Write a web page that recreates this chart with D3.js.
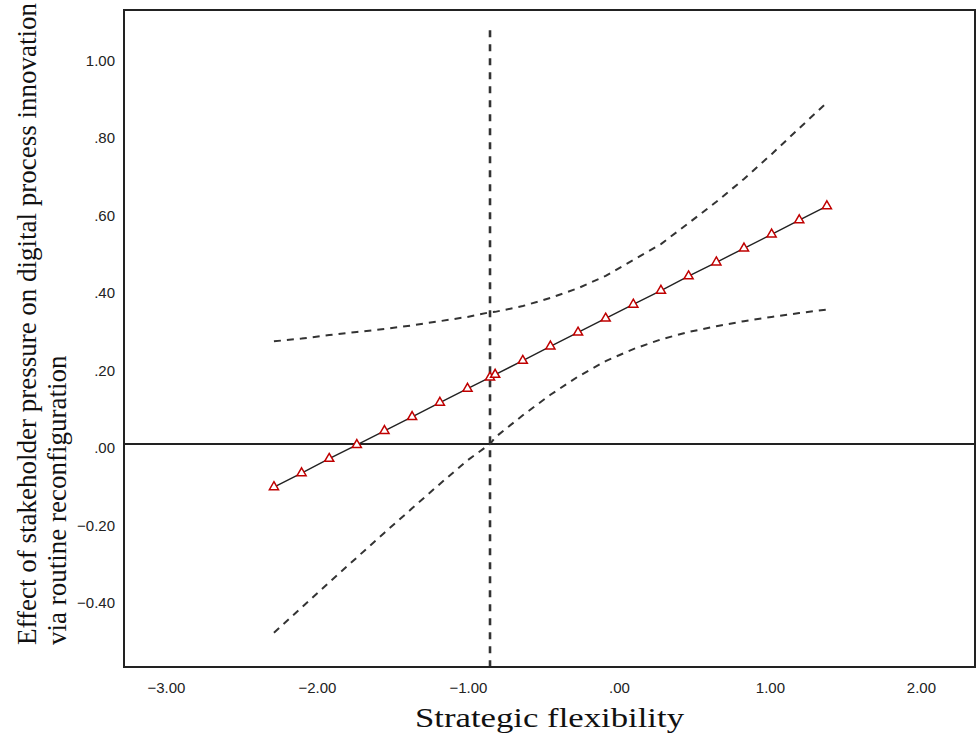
<!DOCTYPE html>
<html>
<head>
<meta charset="utf-8">
<script src="https://cdn.jsdelivr.net/npm/d3@7"></script>
<style>
	body { margin: 0; background: #fff; }
	.tick text { font-family: 'Liberation Sans', Arial, sans-serif; font-size: 15px; fill: #222; }
	.title { font-family: 'Liberation Serif', 'Times New Roman', serif; font-size: 27px; fill: #111; }
</style>
</head>
<body>
<div id="chart"></div>
<script>
// moderator values (strategic flexibility), incl. the Johnson-Neyman point
var modValues = [-2.285, -2.102, -1.919, -1.736, -1.553, -1.370, -1.186, -1.003, -0.854, -0.820,
	-0.637, -0.454, -0.271, -0.088, 0.095, 0.278, 0.461, 0.645, 0.828, 1.011, 1.194, 1.377];
var effects = [-0.111, -0.075, -0.038, -0.002, 0.034, 0.070, 0.107, 0.143, 0.172, 0.179,
	0.215, 0.252, 0.288, 0.324, 0.360, 0.396, 0.433, 0.469, 0.505, 0.541, 0.578, 0.614];
var upperCI = [0.265, 0.272, 0.281, 0.289, 0.297, 0.306, 0.317, 0.328, 0.340, 0.341,
	0.356, 0.377, 0.402, 0.434, 0.475, 0.516, 0.570, 0.625, 0.684, 0.748, 0.815, 0.881];
var lowerCI = [-0.487, -0.422, -0.357, -0.293, -0.229, -0.166, -0.103, -0.042, 0.000, 0.017,
	0.074, 0.127, 0.174, 0.214, 0.245, 0.270, 0.289, 0.304, 0.317, 0.328, 0.338, 0.347];
var jnPoint = -0.854;
var xTicks = [-3, -2, -1, 0, 1, 2];
var yTicks = [-0.4, -0.2, 0, 0.2, 0.4, 0.6, 0.8, 1.0];
var xTitle = 'Strategic flexibility';
var yTitle = ['Effect of stakeholder pressure on digital process innovation', 'via routine reconfiguration'];

var width = 977, height = 740;
var plot = {left: 124, right: 975, top: 10, bottom: 667};

var x = d3.scaleLinear().domain([-3.278, 2.358]).range([plot.left, plot.right]);
var y = d3.scaleLinear().domain([-0.5755, 1.12]).range([plot.bottom, plot.top]);

// SPSS style numbers: .80, -.20, 1.00
var spss = function (v) {
	return d3.format('.2f')(v).replace(/^0\./, '.').replace(/^-0\./, '-.');
};

var svg = d3.select('#chart')
	.append('svg')
	.attr('width', width)
	.attr('height', height);

svg.append('g')
	.attr('transform', 'translate(' + (plot.left - 6) + ',4)')
	.call(d3.axisLeft(y).tickValues(yTicks).tickSize(0).tickFormat(spss))
	.call(function (g) { g.select('.domain').remove(); });

svg.append('g')
	.attr('transform', 'translate(0,' + (plot.bottom + 12) + ')')
	.call(d3.axisBottom(x).tickValues(xTicks).tickSize(0).tickFormat(spss))
	.call(function (g) { g.select('.domain').remove(); });

// zero reference line
svg.append('line')
	.attr('x1', plot.left)
	.attr('x2', plot.right)
	.attr('y1', y(0))
	.attr('y2', y(0))
	.style('stroke', '#222')
	.style('stroke-width', 1.8);

// Johnson-Neyman boundary
svg.append('line')
	.attr('x1', x(jnPoint))
	.attr('x2', x(jnPoint))
	.attr('y1', y(1.068))
	.attr('y2', plot.bottom)
	.style('stroke', '#333')
	.style('stroke-width', 2.6)
	.style('stroke-dasharray', '7,7');

var points = modValues.map(function (m, i) {
	return {m: m, eff: effects[i], up: upperCI[i], lo: lowerCI[i]};
});

var ciLine = function (key) {
	return d3.line()
		.x(function (d) { return x(d.m); })
		.y(function (d) { return y(d[key]); });
};

['up', 'lo'].forEach(function (key) {
	svg.append('path')
		.datum(points)
		.attr('d', ciLine(key))
		.style('fill', 'none')
		.style('stroke', '#333')
		.style('stroke-width', 2)
		.style('stroke-dasharray', '7,6');
});

svg.append('path')
	.datum(points)
	.attr('d', ciLine('eff'))
	.style('fill', 'none')
	.style('stroke', '#222')
	.style('stroke-width', 1.4);

svg.selectAll('.marker')
	.data(points)
	.enter()
	.append('path')
	.attr('class', 'marker')
	.attr('transform', function (d) { return 'translate(' + x(d.m) + ',' + y(d.eff) + ')'; })
	.attr('d', d3.symbol(d3.symbolTriangle, 36))
	.style('fill', '#fff')
	.style('stroke', '#c00000')
	.style('stroke-width', 1.5);

// frame
svg.append('rect')
	.attr('x', plot.left)
	.attr('y', plot.top)
	.attr('width', plot.right - plot.left)
	.attr('height', plot.bottom - plot.top)
	.style('fill', 'none')
	.style('stroke', '#222')
	.style('stroke-width', 2);

svg.append('text')
	.attr('class', 'title')
	.attr('x', (plot.left + plot.right) / 2)
	.attr('y', 727)
	.attr('textLength', 269)
	.attr('lengthAdjust', 'spacingAndGlyphs')
	.style('text-anchor', 'middle')
	.text(xTitle);

yTitle.forEach(function (t, i) {
	svg.append('text')
		.attr('class', 'title')
		.attr('transform', 'translate(' + (36 + i * 30) + ',645) rotate(-90)')
		.style('text-anchor', 'start')
		.text(t);
});
</script>
</body>
</html>
